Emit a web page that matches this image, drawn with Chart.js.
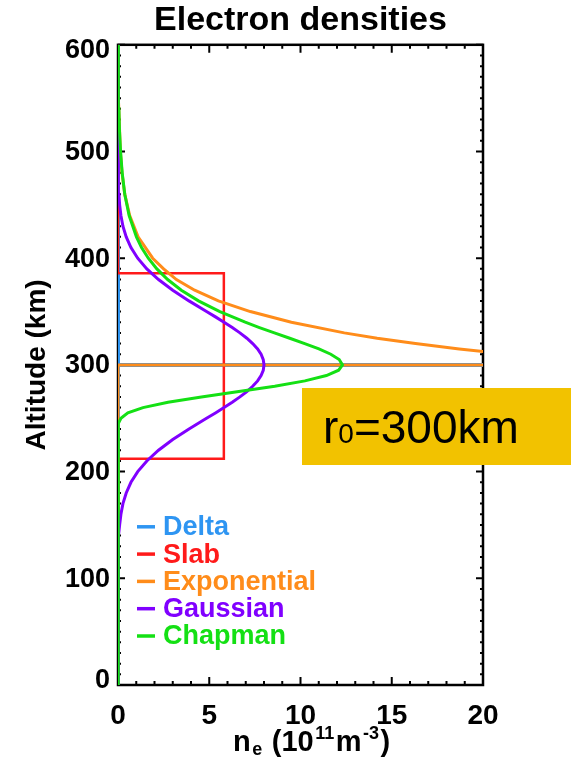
<!DOCTYPE html>
<html>
<head>
<meta charset="utf-8">
<script src="https://cdn.jsdelivr.net/npm/chart.js@4.4.1/dist/chart.umd.min.js"></script>
<style>
  html, body { margin: 0; padding: 0; background: #fff; }
  #wrap { width: 571px; height: 759px; position: relative; }
</style>
</head>
<body>
<div id="wrap"><canvas id="c"></canvas></div>
<script>
// ---- data (altitude in km, electron density in 1e11 m^-3) ----
const seriesNames = ['Delta', 'Slab', 'Exponential', 'Gaussian', 'Chapman'];
const seriesColors = ['#2E95F2', '#FF1A1A', '#FF8C1A', '#8000FF', '#14E014'];

const deltaAlt = [0, 300, 300, 300, 600];
const deltaNe  = [0, 0, 30, 0, 0];

const slabAlt = [0, 212, 212, 386, 386, 600];
const slabNe  = [0, 0, 5.8, 5.8, 0, 0];

const expAlt = [0, 300, 300, 305, 310, 315, 320, 325, 330, 340, 350, 360, 370, 380, 390, 400, 420, 440, 460, 480, 500, 550, 600];
const expNe  = [0, 0, 28, 24.5, 21.4, 18.7, 16.3, 14.2, 12.4, 9.5, 7.25, 5.5, 4.2, 3.2, 2.5, 1.9, 1.1, 0.64, 0.37, 0.22, 0.13, 0.02, 0];

const gaussAlt = [0, 120, 130, 140, 150, 160, 170, 180, 190, 200, 210, 220, 230, 240, 250, 255, 260, 265, 270, 275, 280, 285, 290, 295, 300, 305, 310, 315, 320, 325, 330, 335, 340, 345, 350, 360, 370, 380, 390, 400, 410, 420, 430, 440, 450, 460, 470, 480, 600];
const gaussNe  = [0, 0.01, 0.02, 0.05, 0.09, 0.16, 0.27, 0.45, 0.71, 1.08, 1.58, 2.22, 3.00, 3.89, 4.85, 5.34, 5.81, 6.26, 6.68, 7.06, 7.38, 7.65, 7.84, 7.96, 8.00, 7.96, 7.84, 7.65, 7.38, 7.06, 6.68, 6.26, 5.81, 5.34, 4.85, 3.89, 3.00, 2.22, 1.58, 1.08, 0.71, 0.45, 0.27, 0.16, 0.09, 0.05, 0.02, 0.01, 0];

const chapAlt = [0, 240, 245, 250, 255, 260, 265, 270, 275, 280, 285, 290, 295, 300, 305, 310, 315, 320, 325, 330, 335, 340, 350, 360, 370, 380, 390, 400, 410, 420, 440, 460, 480, 500, 520, 540, 560, 600];
const chapNe  = [0, 0, 0.03, 0.16, 0.54, 1.37, 2.74, 4.57, 6.62, 8.59, 10.24, 11.42, 12.09, 12.3, 12.12, 11.66, 11.01, 10.23, 9.41, 8.57, 7.75, 6.97, 5.58, 4.41, 3.47, 2.72, 2.13, 1.66, 1.29, 1.01, 0.61, 0.37, 0.23, 0.14, 0.08, 0.05, 0.03, 0.01];

const xTicks = [0, 5, 10, 15, 20];
const yTicks = [0, 100, 200, 300, 400, 500, 600];
const titleText = 'Electron densities';
const yTitleText = 'Altitude (km)';
const noteText = ['r', '0', '=300km'];

const altLists = [deltaAlt, slabAlt, expAlt, gaussAlt, chapAlt];
const neLists = [deltaNe, slabNe, expNe, gaussNe, chapNe];
const widths = [4, 2.5, 3, 3, 3];

const datasets = seriesNames.map((name, i) => ({
  label: name,
  data: altLists[i].map((a, k) => ({ x: neLists[i][k], y: a })),
  borderColor: seriesColors[i],
  backgroundColor: seriesColors[i],
  borderWidth: widths[i],
  showLine: true,
  pointRadius: 0,
  tension: 0,
  fill: false,
  order: seriesNames.length - i   // later series drawn on top
}));

const FONT = '"Liberation Sans", Arial, sans-serif';

const framePlugin = {
  id: 'frame',
  beforeDatasetsDraw(chart) {
    const { ctx, chartArea: a, scales: { x, y } } = chart;
    ctx.save();
    ctx.strokeStyle = '#000';
    ctx.lineWidth = 2.5;
    ctx.strokeRect(a.left, a.top, a.right - a.left, a.bottom - a.top);
    ctx.lineWidth = 2;
    ctx.beginPath();
    for (let v = x.min; v <= x.max; v += 1) {
      const px = x.getPixelForValue(v);
      const len = v % 5 === 0 ? 8 : 4;
      ctx.moveTo(px, a.bottom); ctx.lineTo(px, a.bottom - len);
      ctx.moveTo(px, a.top); ctx.lineTo(px, a.top + len);
    }
    for (let v = y.min; v <= y.max; v += 10) {
      const py = y.getPixelForValue(v);
      const len = v % 100 === 0 ? 7 : 3;
      ctx.moveTo(a.left, py); ctx.lineTo(a.left + len, py);
      ctx.moveTo(a.right, py); ctx.lineTo(a.right - len, py);
    }
    ctx.stroke();
    ctx.restore();
  },
  afterDatasetsDraw(chart) {
    const { ctx, chartArea: a, scales: { y } } = chart;
    ctx.save();
    // y tick labels (end labels pulled inside as in the original)
    ctx.font = 'bold 27px ' + FONT;
    ctx.fillStyle = '#000';
    ctx.textAlign = 'right';
    ctx.textBaseline = 'middle';
    yTicks.forEach(v => {
      let py = y.getPixelForValue(v);
      if (v === y.max) py += 5;
      if (v === y.min) py -= 5;
      ctx.fillText(String(v), a.left - 8, py + 1);
    });
    // legend inside plot
    ctx.textAlign = 'left';
    ctx.font = 'bold 27px ' + FONT;
    chart.data.datasets.forEach((ds, i) => {
      const yy = a.top + 482 + i * 27.3;
      ctx.strokeStyle = ds.borderColor;
      ctx.lineWidth = 3.5;
      ctx.beginPath();
      ctx.moveTo(a.left + 19, yy); ctx.lineTo(a.left + 37, yy);
      ctx.stroke();
      ctx.fillStyle = ds.borderColor;
      ctx.fillText(ds.label, a.left + 45, yy + 1);
    });
    ctx.restore();
  },
  afterDraw(chart) {
    const { ctx, chartArea: a } = chart;
    ctx.save();
    // x-axis title with sub/superscripts
    const base = 751;
    const big = 'bold 29px ' + FONT, small = 'bold 18px ' + FONT;
    const parts = [['n', big, 0], ['e', small, 4], [' (10', big, 0], ['11', small, -12], ['m', big, 0], ['-3', small, -12], [')', big, 0]];
    let xx = 233;
    ctx.fillStyle = '#000';
    ctx.textBaseline = 'alphabetic';
    parts.forEach(p => { ctx.font = p[1]; ctx.fillText(p[0], xx, base + p[2]); xx += ctx.measureText(p[0]).width + 1.5; });
    // annotation box
    ctx.fillStyle = '#F2C200';
    ctx.fillRect(302, 388, 269, 77);
    ctx.fillStyle = '#000';
    let tx = 323;
    ctx.font = '46px ' + FONT; ctx.fillText(noteText[0], tx, 443); tx += ctx.measureText(noteText[0]).width;
    ctx.font = '28px ' + FONT; ctx.fillText(noteText[1], tx, 443); tx += ctx.measureText(noteText[1]).width;
    ctx.font = '46px ' + FONT; ctx.fillText(noteText[2], tx, 443);
    ctx.restore();
  }
};

new Chart(document.getElementById('c'), {
  type: 'scatter',
  data: { datasets },
  options: {
    responsive: true,
    maintainAspectRatio: false,
    animation: false,
    layout: { padding: { left: 0, right: 88, top: 0, bottom: 0 } },
    plugins: {
      legend: { display: false },
      tooltip: { enabled: false },
      title: {
        display: true, text: titleText, fullSize: false,
        color: '#000', font: { family: FONT, size: 34, weight: 'bold', lineHeight: 1.2 },
        padding: { top: 0, bottom: 4 }
      }
    },
    scales: {
      x: {
        type: 'linear', position: 'bottom', min: 0, max: 20,
        afterBuildTicks: s => { s.ticks = xTicks.map(v => ({ value: v })); },
        afterFit: s => { s.height = 74; },
        grid: { display: false, drawTicks: false },
        border: { display: false },
        ticks: { color: '#000', padding: 14, maxRotation: 0, font: { family: FONT, size: 28, weight: 'bold' } }
      },
      y: {
        type: 'linear', position: 'left', min: 0, max: 600,
        afterBuildTicks: s => { s.ticks = yTicks.map(v => ({ value: v })); },
        afterFit: s => { s.width = 118; },
        grid: { display: false, drawTicks: false },
        border: { display: false },
        ticks: { display: false },
        title: { display: true, text: yTitleText, color: '#000', padding: { top: 20, bottom: 0 }, font: { family: FONT, size: 28, weight: 'bold' } }
      }
    }
  },
  plugins: [framePlugin]
});
</script>
</body>
</html>
